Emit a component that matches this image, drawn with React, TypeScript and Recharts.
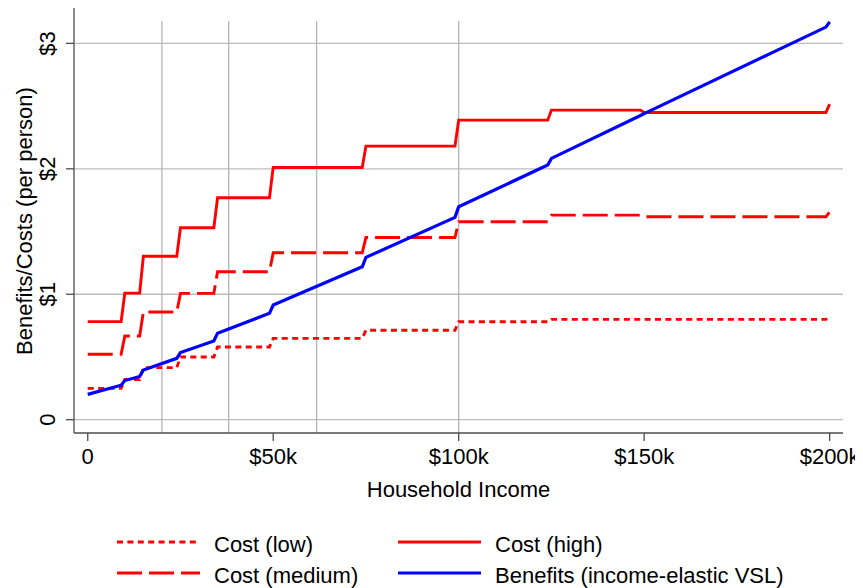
import React from "react";
import { LineChart, Line, XAxis, YAxis, ReferenceLine } from "recharts";

// household income breakpoints (dollars)
const incomes = [
  0, 9000, 10000, 14000, 15000, 24000, 25000, 34000, 35000, 49000, 50000,
  74000, 75000, 99000, 100000, 124000, 125000, 149000, 150000, 199000, 200000,
];

// cost per person, three scenarios
const costLow = [
  0.25, 0.25, 0.32, 0.32, 0.415, 0.415, 0.5, 0.5, 0.58, 0.58, 0.648, 0.648,
  0.713, 0.713, 0.781, 0.781, 0.8, 0.8, 0.8, 0.8, 0.815,
];
const costMedium = [
  0.522, 0.522, 0.667, 0.667, 0.858, 0.858, 1.007, 1.007, 1.179, 1.179, 1.331,
  1.331, 1.453, 1.453, 1.578, 1.578, 1.631, 1.631, 1.618, 1.618, 1.655,
];
const costHigh = [
  0.782, 0.782, 1.009, 1.009, 1.303, 1.303, 1.53, 1.53, 1.769, 1.769, 2.011,
  2.011, 2.181, 2.181, 2.388, 2.388, 2.468, 2.468, 2.449, 2.449, 2.515,
];

// benefits per person (income-elastic VSL)
const benefits = [
  0.202, 0.275, 0.312, 0.345, 0.396, 0.489, 0.536, 0.628, 0.69, 0.848, 0.914,
  1.219, 1.294, 1.613, 1.698, 2.03, 2.083, 2.425, 2.44, 3.13, 3.172,
];

const xTicks = [0, 50000, 100000, 150000, 200000];
const xTickLabels = ["0", "$50k", "$100k", "$150k", "$200k"];
const yTicks = [0, 1, 2, 3];
const yTickLabels = ["0", "$1", "$2", "$3"];

// vertical marker lines (income thresholds)
const markerIncomes = [20000, 38000, 61700, 100000];

const FONT = "'Liberation Sans', Arial, Helvetica, sans-serif";
const RED = "#ff0000";
const BLUE = "#0000ff";
const GRID = "#bdbdbd";
const AXIS = "#4d4d4d";

const series = [
  { key: "low", name: "Cost (low)", color: RED, dash: "6 4.4", width: 2.9 },
  { key: "medium", name: "Cost (medium)", color: RED, dash: "25 7", width: 2.9 },
  { key: "high", name: "Cost (high)", color: RED, dash: undefined, width: 2.9 },
  {
    key: "benefits",
    name: "Benefits (income-elastic VSL)",
    color: BLUE,
    dash: undefined,
    width: 3.2,
  },
];

function YTick({ x, y, payload }: any) {
  const i = yTicks.indexOf(payload.value);
  const bx = x - 8.5;
  return (
    <text
      x={bx}
      y={y}
      transform={`rotate(-90, ${bx}, ${y})`}
      textAnchor="middle"
      fontSize={22}
      fontFamily={FONT}
      fill="#000"
    >
      {yTickLabels[i]}
    </text>
  );
}

export default function App() {
  const data = incomes.map((income, i) => ({
    income,
    low: costLow[i],
    medium: costMedium[i],
    high: costHigh[i],
    benefits: benefits[i],
  }));

  // legend layout: two columns, two rows
  const legendCells = [
    { s: series[0], x: 117, y: 542 },
    { s: series[1], x: 117, y: 573 },
    { s: series[2], x: 398, y: 542 },
    { s: series[3], x: 398, y: 573 },
  ];

  return (
    <div
      style={{
        position: "relative",
        width: 863,
        height: 588,
        marginLeft: -8,
        marginTop: -8,
        background: "#fff",
        fontFamily: FONT,
      }}
    >
      <LineChart
        width={863}
        height={588}
        data={data}
        margin={{ top: 7, right: 20, left: 0, bottom: 85 }}
        style={{ overflow: "visible" }}
      >
        <XAxis
          type="number"
          dataKey="income"
          domain={[-3700, 203600]}
          allowDataOverflow
          ticks={xTicks}
          interval={0}
          tickFormatter={(v: number) => xTickLabels[xTicks.indexOf(v)]}
          height={70}
          tickSize={8}
          tickMargin={7}
          tick={{ fontSize: 22, fill: "#000", fontFamily: FONT }}
          axisLine={{ stroke: AXIS, strokeWidth: 1.3 }}
          tickLine={{ stroke: AXIS, strokeWidth: 1.3 }}
          label={() => (
            <text
              x={458.5}
              y={497}
              textAnchor="middle"
              fontSize={22}
              fontFamily={FONT}
              fill="#000"
            >
              Household Income
            </text>
          )}
        />
        <YAxis
          type="number"
          domain={[-0.106, 3.29]}
          allowDataOverflow
          ticks={yTicks}
          interval={0}
          width={74}
          tickSize={8}
          tickMargin={2}
          tick={<YTick />}
          axisLine={{ stroke: AXIS, strokeWidth: 1.3 }}
          tickLine={{ stroke: AXIS, strokeWidth: 1.3 }}
          label={() => (
            <text
              x={32}
              y={221}
              transform="rotate(-90, 32, 221)"
              textAnchor="middle"
              fontSize={22}
              fontFamily={FONT}
              fill="#000"
            >
              Benefits/Costs (per person)
            </text>
          )}
        />

        {yTicks.map((v) => (
          <ReferenceLine key={"h" + v} y={v} stroke={GRID} strokeWidth={1.3} />
        ))}
        {markerIncomes.map((v) => (
          <ReferenceLine
            key={"v" + v}
            segment={[
              { x: v, y: 3.178 },
              { x: v, y: -0.106 },
            ]}
            stroke="#b4b4b4"
            strokeWidth={1.3}
          />
        ))}

        {series.map((s) => (
          <Line
            key={s.key}
            type="linear"
            dataKey={s.key}
            name={s.name}
            stroke={s.color}
            strokeWidth={s.width}
            strokeDasharray={s.dash}
            dot={false}
            activeDot={false}
            isAnimationActive={false}
          />
        ))}
      </LineChart>

      {/* legend */}
      <svg
        width={863}
        height={80}
        style={{ position: "absolute", left: 0, top: 508 }}
      >
        {legendCells.map(({ s, x, y }) => (
          <g key={s.key}>
            <line
              x1={x}
              x2={x + 83}
              y1={y - 508}
              y2={y - 508}
              stroke={s.color}
              strokeWidth={s.width}
              strokeDasharray={s.dash}
            />
            <text
              x={x + 97}
              y={y - 508 + 9.8}
              fontSize={22}
              fontFamily={FONT}
              fill="#000"
            >
              {s.name}
            </text>
          </g>
        ))}
      </svg>
    </div>
  );
}
